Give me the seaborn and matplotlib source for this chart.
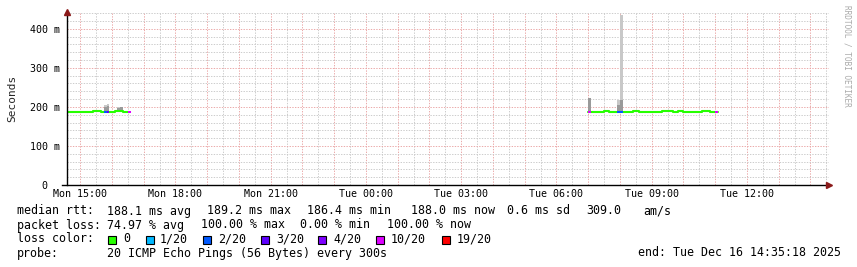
import numpy as np
import pandas as pd
import matplotlib
matplotlib.use("Agg")
import matplotlib.pyplot as plt
import seaborn as sns
from matplotlib.ticker import MultipleLocator, FuncFormatter
from matplotlib.patches import Rectangle

# ---------------- data ----------------
step_h = 5 / 60  # 5 minute steps
seg1_start = 14 + 35 / 60   # Mon 14:35 (hours since Mon 00:00)
seg2_start = 31.0           # Tue 07:00

seg1_median = [188, 188, 187, 187, 188, 188, 188, 188, 188, 188, 188.5, 188.5,
               188.5, 188, 188, 188, 188, 188, 189, 189, 189, 188, 188, 188]
seg1_loss = [0, 0, 0, 0, 0, 0, 0, 0, 0, 0, 0, 0,
             0, 0, 2, 3, 0, 0, 0, 0, 0, 0, 0, 10]
seg1_smoke_hi = [189, 189, 188, 188, 189, 189, 189, 189, 189, 189, 190, 190,
                 190, 189, 206, 208, 190, 190, 191, 199, 200, 190, 189, 190]
seg1_smoke_mid = [188, 188, 187, 187, 188, 188, 188, 188, 188, 188, 188, 188,
                  188, 188, 199, 203, 188, 188, 189, 197, 199, 188, 188, 188]

seg2_median = [188, 188, 188, 188, 188, 188, 189, 189, 188, 188, 188, 188,
               188, 188, 188, 188, 188, 189, 189, 188, 188, 188, 188, 188,
               188, 188, 188, 188, 189, 189, 189, 189, 188, 188, 189, 189,
               188, 188, 188, 188, 188, 188, 188, 189, 189, 189, 188, 188, 188]
seg2_loss = [10, 0, 0, 0, 0, 0, 0, 0, 0, 0, 0, 2,
             2, 0, 0, 0, 0, 0, 0, 0, 0, 0, 0, 0,
             0, 0, 0, 0, 0, 0, 0, 0, 0, 0, 0, 0,
             0, 0, 0, 0, 0, 0, 0, 0, 0, 0, 0, 0, 10]
seg2_smoke_hi = [222, 189, 189, 189, 189, 189, 190, 190, 189, 189, 189, 218,
                 436, 189, 189, 189, 189, 190, 190, 189, 189, 189, 189, 189,
                 189, 189, 189, 189, 190, 190, 190, 190, 189, 189, 190, 190,
                 189, 189, 189, 189, 189, 189, 189, 190, 190, 190, 189, 189, 189]
seg2_smoke_mid = [222, 188, 188, 188, 188, 188, 189, 189, 188, 188, 188, 205,
                  218, 188, 188, 188, 188, 189, 189, 188, 188, 188, 188, 188,
                  188, 188, 188, 188, 189, 189, 189, 189, 188, 188, 189, 189,
                  188, 188, 188, 188, 188, 188, 188, 189, 189, 189, 188, 188, 188]

loss_levels = [0, 1, 2, 3, 4, 10, 19]
loss_labels = ["0", "1/20", "2/20", "3/20", "4/20", "10/20", "19/20"]
loss_colors = ["#26ff00", "#00b8ff", "#0059ff", "#5e00ff", "#7e00ff", "#dd00ff", "#ff0000"]

x_tick_hours = [15, 18, 21, 24, 27, 30, 33, 36]
x_tick_labels = ["Mon 15:00", "Mon 18:00", "Mon 21:00", "Tue 00:00",
                 "Tue 03:00", "Tue 06:00", "Tue 09:00", "Tue 12:00"]
y_ticks = [0, 100, 200, 300, 400]
y_tick_labels = ["0  ", "100 m", "200 m", "300 m", "400 m"]

x_start, x_end = 14 + 35 / 60, 38 + 35 / 60
y_max = 443

# ---------------- figure ----------------
sns.set_style("white")
plt.rcParams["font.family"] = ["DejaVu Sans Mono"]
W, H = 857, 267
fig = plt.figure(figsize=(W / 100, H / 100), dpi=100)
fig.patch.set_facecolor("white")
ax = fig.add_axes([67 / W, (H - 185) / H, 762 / W, 173 / H])
ax.set_facecolor("white")

def fx(px):
    return px / W

def fy(py):
    return 1 - py / H

color_of = dict(zip(loss_levels, loss_colors))
px_unit = y_max / 173.0  # data units per pixel
half = px_unit * 1.0

for start, med, loss, hi, mid in [
        (seg1_start, seg1_median, seg1_loss, seg1_smoke_hi, seg1_smoke_mid),
        (seg2_start, seg2_median, seg2_loss, seg2_smoke_hi, seg2_smoke_mid)]:
    n = len(med)
    t = start + np.arange(n) * step_h
    lo = np.array(med) - 1.5
    ax.bar(t, np.array(hi) - lo, bottom=lo, width=step_h, align="edge",
           color="#c8c8c8", linewidth=0, zorder=2)
    ax.bar(t, np.array(mid) - lo, bottom=lo, width=step_h, align="edge",
           color="#9a9a9a", linewidth=0, zorder=3)
    df = pd.DataFrame({"t": np.append(t, t[-1] + step_h),
                       "median": np.append(med, med[-1])})
    sns.lineplot(data=df, x="t", y="median", ax=ax, drawstyle="steps-post",
                 color=color_of[0], linewidth=1.5, zorder=4)
    cols = [color_of[l] for l in loss]
    mask = np.array(loss) > 0
    ax.bar(t[mask], 2 * half, bottom=np.array(med)[mask] - half, width=step_h,
           align="edge", color=np.array(cols)[mask], linewidth=0, zorder=5)

ax.set_xlim(x_start, x_end)
ax.set_ylim(0, y_max)

# grid
ax.xaxis.set_major_locator(MultipleLocator(1))
ax.xaxis.set_minor_locator(MultipleLocator(0.5))
ax.yaxis.set_major_locator(MultipleLocator(100))
ax.yaxis.set_minor_locator(MultipleLocator(20))
ax.grid(which="minor", color="#c8c8c8", linestyle=(0, (1.5, 1.5)), linewidth=0.65, zorder=0)
ax.grid(which="major", color="#e9a3a3", linestyle=(0, (1.5, 1.5)), linewidth=0.65, zorder=1)
ax.set_axisbelow(True)

lab = dict(zip(x_tick_hours, x_tick_labels))
ax.xaxis.set_major_formatter(FuncFormatter(lambda v, p: lab.get(int(round(v)), "") if abs(v - round(v)) < 1e-6 else ""))
ylab = dict(zip(y_ticks, y_tick_labels))
ax.yaxis.set_major_formatter(FuncFormatter(lambda v, p: ylab.get(int(round(v)), "")))
ax.tick_params(axis="x", which="both", length=0, pad=3, labelsize=7.2, colors="black")
ax.tick_params(axis="y", which="major", length=0, pad=5, labelsize=7.2, colors="black", left=True)
ax.tick_params(axis="y", which="minor", length=0)
ax.tick_params(axis="x", which="major", bottom=False)

for s in ["top", "right"]:
    ax.spines[s].set_visible(False)
for s in ["left", "bottom"]:
    ax.spines[s].set_color("black")
    ax.spines[s].set_linewidth(1.0)
    ax.spines[s].set_zorder(6)
ax.spines["bottom"].set_bounds(x_start - 5 * step_h / 2.646 * 1.0, x_end)
ax.set_xlabel("")
ax.set_ylabel("Seconds", fontsize=8, labelpad=9)

# arrows
ax.plot([0], [1.0], marker="^", color="#8b1a1a", markersize=4, transform=ax.transAxes, clip_on=False, zorder=7)
ax.plot([1.0], [0], marker=">", color="#8b1a1a", markersize=4, transform=ax.transAxes, clip_on=False, zorder=7)

# watermark
fig.text(fx(847), fy(5), "RRDTOOL / TOBI OETIKER", rotation=270, ha="center", va="top",
         fontsize=5.6, color="#aaaaaa")

# legend / stats text
fs = 8.4
def t_(x, y, s):
    fig.text(fx(x), fy(y), s, ha="left", va="center", fontsize=fs, color="black")

t_(16.7, 211, "median rtt:")
t_(107, 211, "188.1 ms avg")
t_(207, 211, "189.2 ms max")
t_(307, 211, "186.4 ms min")
t_(411, 211, "188.0 ms now")
t_(507, 211, "0.6 ms sd")
t_(586, 211, "309.0")
t_(643, 211, "am/s")

t_(16.7, 225, "packet loss:")
t_(107, 225, "74.97 % avg")
t_(200.7, 225, "100.00 % max")
t_(300, 225, "0.00 % min")
t_(386.7, 225, "100.00 % now")

t_(16.7, 239, "loss color:")
box_x = [108, 145.7, 203, 261, 318, 376, 442]
lab_x = [123, 160, 218, 276, 333, 391, 457]
for bx, lx, c, l in zip(box_x, lab_x, loss_colors, loss_labels):
    fig.patches.append(Rectangle((fx(bx), fy(244)), 8 / W, 8 / H, transform=fig.transFigure,
                                 facecolor=c, edgecolor="black", linewidth=0.8))
    t_(lx, 239, l)

t_(16.7, 253, "probe:")
t_(107, 253, "20 ICMP Echo Pings (56 Bytes) every 300s")
t_(638, 253, "end: Tue Dec 16 14:35:18 2025")

fig.savefig("out.png", dpi=100, facecolor="white")
